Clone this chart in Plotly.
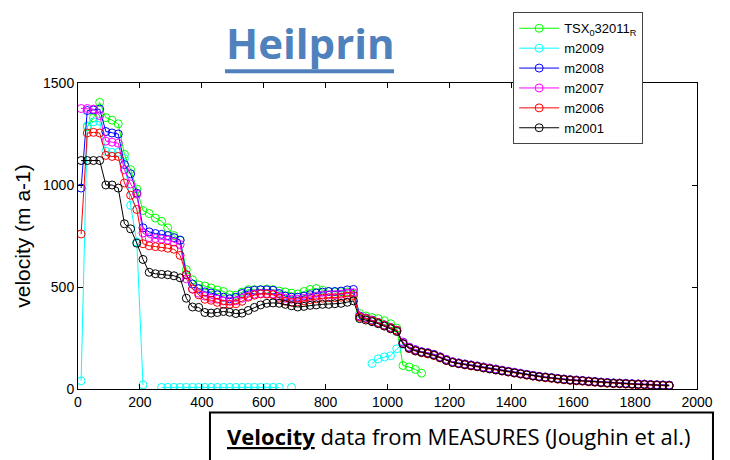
import plotly.graph_objects as go

# distance along flowline (x axis)
distance = [10, 30, 50, 70, 90, 110, 130, 150, 170, 190,
            210, 230, 250, 270, 290, 310, 330, 350, 370, 390,
            410, 430, 450, 470, 490, 510, 530, 550, 570, 590,
            610, 630, 650, 670, 690, 710, 730, 750, 770, 790,
            810, 830, 850, 870, 890, 910, 930, 950, 970, 990,
            1010, 1030, 1050, 1070, 1090, 1110, 1130, 1150, 1170, 1190,
            1210, 1230, 1250, 1270, 1290, 1310, 1330, 1350, 1370, 1390,
            1410, 1430, 1450, 1470, 1490, 1510, 1530, 1550, 1570, 1590,
            1610, 1630, 1650, 1670, 1690, 1710, 1730, 1750, 1770, 1790,
            1810, 1830, 1850, 1870, 1890, 1910]

N = None

tsx_032011 = [N, 1285, 1330, 1405, 1330, 1318, 1300, 1150, 1075, 980,
              875, 860, 838, 822, 790, 752, 728, 585, 535, 510,
              505, 495, 485, 478, 462, 460, 475, 487, 487, 487,
              490, 487, 480, 476, 470, 466, 478, 488, 492, 485,
              478, 476, 477, 476, 465, 370, 358, 350, 345, 335,
              320, 298, 115, 108, 96, 78, N, N, N, N,
              N, N, N, N, N, N, N, N, N, N,
              N, N, N, N, N, N, N, N, N, N,
              N, N, N, N, N, N, N, N, N, N,
              N, N, N, N, N, N]

m2009 = [40, 1290, 1310, 1312, 1165, 1160, 1160, 1130, 900, 720,
         20, N, N, 8, 8, 8, 8, 8, 8, 8,
         8, 8, 8, 8, 8, 8, 8, 8, 8, 8,
         8, 8, 8, N, 8, N, N, N, N, N,
         N, N, N, N, N, N, N, 125, 148, 157,
         163, 197, 220, 200, 188, 179, 174, 166, 155, 142,
         131, 125, 120, 116, 111, 105, 100, 95, 90, 85,
         80, 75, 70, 65, 60, 57, 54, 50, 47, 44,
         42, 40, 37, 35, 32, 30, 28, 27, 26, 24,
         23, 22, 20, 19, 18, 17]

m2008 = [985, 1365, 1368, 1372, 1262, 1255, 1250, 1100, 1055, 960,
         790, 770, 762, 758, 752, 742, 730, 560, 515, 492,
         476, 470, 462, 450, 442, 450, 468, 480, 484, 486,
         486, 484, 468, 455, 450, 450, 455, 462, 470, 475,
         478, 478, 480, 486, 488, 358, 348, 338, 326, 314,
         302, 288, 230, 205, 193, 183, 178, 170, 158, 145,
         134, 128, 123, 118, 113, 108, 103, 98, 92, 87,
         82, 77, 72, 67, 62, 59, 56, 52, 49, 46,
         44, 42, 39, 37, 34, 32, 30, 29, 28, 26,
         25, 24, 22, 21, 20, 19]

m2007 = [1375, 1375, 1372, 1340, 1215, 1210, 1205, 1075, 1005, 955,
         765, 742, 738, 735, 730, 720, 708, 540, 490, 470,
         455, 445, 440, 432, 430, 432, 445, 455, 465, 468,
         468, 466, 455, 445, 440, 440, 445, 450, 455, 460,
         462, 462, 465, 470, 472, 355, 346, 336, 325, 313,
         300, 287, 228, 204, 192, 182, 177, 168, 157, 144,
         133, 127, 121, 117, 112, 107, 101, 96, 91, 86,
         81, 76, 71, 66, 61, 58, 55, 51, 48, 45,
         43, 41, 38, 36, 33, 31, 29, 28, 27, 25,
         24, 23, 21, 20, 19, 18]

m2006 = [760, 1255, 1258, 1255, 1145, 1140, 1140, 1010, 950, 880,
         712, 702, 698, 695, 690, 685, 655, 560, 490, 462,
         440, 435, 425, 415, 415, 418, 430, 450, 460, 466,
         465, 462, 445, 430, 425, 428, 432, 438, 442, 445,
         448, 448, 450, 455, 458, 352, 345, 335, 325, 312,
         300, 288, 222, 198, 186, 178, 172, 164, 152, 140,
         130, 124, 118, 113, 109, 103, 98, 93, 88, 83,
         78, 73, 68, 63, 58, 55, 52, 48, 45, 42,
         40, 38, 35, 33, 30, 28, 26, 25, 24, 22,
         21, 20, 18, 17, 16, 15]

m2001 = [1120, 1120, 1120, 1120, 1000, 1000, 985, 810, 785, 715,
         635, 572, 565, 562, 560, 555, 545, 445, 402, 400,
         375, 372, 375, 380, 376, 370, 372, 385, 400, 412,
         420, 422, 420, 415, 408, 402, 405, 410, 412, 415,
         415, 418, 420, 425, 432, 345, 338, 330, 320, 308,
         295, 282, 222, 200, 188, 180, 175, 166, 154, 140,
         130, 125, 120, 115, 110, 104, 99, 94, 89, 84,
         79, 74, 69, 64, 60, 57, 54, 50, 47, 44,
         42, 40, 37, 35, 32, 30, 28, 27, 26, 24,
         23, 22, 20, 19, 18, 17]

series_names = ["TSX<sub>0</sub>32011<sub>R</sub>", "m2009", "m2008", "m2007", "m2006", "m2001"]
series_values = [tsx_032011, m2009, m2008, m2007, m2006, m2001]
series_colors = ["#00FF00", "#00FFFF", "#0000FF", "#FF00FF", "#FF0000", "#000000"]

x_ticks = [0, 200, 400, 600, 800, 1000, 1200, 1400, 1600, 1800, 2000]
y_ticks = [0, 500, 1000, 1500]

fig = go.Figure()
for name, vals, col in zip(series_names, series_values, series_colors):
    fig.add_trace(go.Scatter(
        x=distance, y=vals, name=name, mode="lines+markers",
        line=dict(color=col, width=1),
        marker=dict(symbol="circle-open", size=8, color=col, line=dict(width=1, color=col)),
        connectgaps=False,
    ))

axis_common = dict(showline=True, linecolor="black", linewidth=1, mirror="ticks",
                   ticks="inside", ticklen=5, tickcolor="black", tickwidth=1,
                   showgrid=False, zeroline=False,
                   tickfont=dict(family="Liberation Sans, Arial, sans-serif", size=14, color="black"))

fig.update_layout(
    width=730, height=460,
    margin=dict(l=78, r=33, t=77, b=71),
    paper_bgcolor="white", plot_bgcolor="white",
    font=dict(family="Liberation Sans, Arial, sans-serif", size=14, color="black"),
    xaxis=dict(range=[0, 2000], tickvals=x_ticks, ticktext=[str(v) for v in x_ticks], **axis_common),
    yaxis=dict(range=[0, 1500], tickvals=y_ticks, ticktext=[str(v) for v in y_ticks],
               title=dict(text="velocity (m a-1)", font=dict(size=21, color="black"), standoff=6),
               **axis_common),
    legend=dict(x=0.703, y=1.231, xanchor="left", yanchor="top",
                bgcolor="white", bordercolor="#444444", borderwidth=1,
                font=dict(size=13, color="black"), itemwidth=40,
                tracegroupgap=0),
    showlegend=True,
    annotations=[
        dict(text="<b>Heilprin</b>", xref="paper", yref="paper", x=0.375, y=1.133,
             xanchor="center", yanchor="middle", showarrow=False,
             font=dict(family="Open Sans", size=42, color="#4F81BD")),
        dict(text="<b><u>Velocity</u></b> data from MEASURES (Joughin et al.)",
             xref="paper", yref="paper", x=0.2375, y=-0.154,
             xanchor="left", yanchor="middle", showarrow=False,
             font=dict(family="Open Sans", size=22, color="black")),
    ],
    shapes=[
        dict(type="line", xref="paper", yref="paper", x0=0.2375, x1=0.5105, y0=1.0385, y1=1.0385,
             line=dict(color="#4F81BD", width=4), layer="above"),
        dict(type="rect", xref="paper", yref="paper", x0=0.2132, x1=1.0258, y0=-0.0769, y1=-0.28,
             line=dict(color="black", width=2), fillcolor="rgba(0,0,0,0)", layer="above"),
    ],
)

fig.write_html("out.html")
